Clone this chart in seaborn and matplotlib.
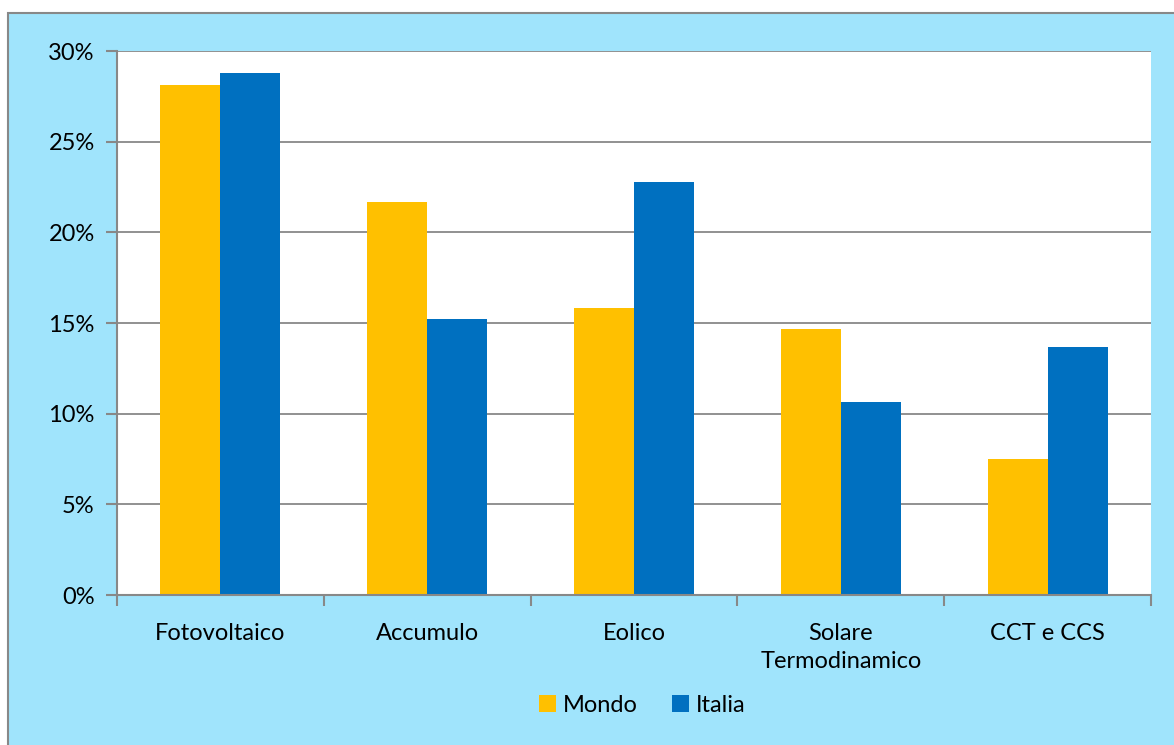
import matplotlib
matplotlib.use("Agg")
import matplotlib.pyplot as plt
import seaborn as sns
import pandas as pd
import numpy as np
from matplotlib.patches import Rectangle
from matplotlib.ticker import FixedLocator, FuncFormatter

categories = ["Fotovoltaico", "Accumulo", "Eolico", "Solare\nTermodinamico", "CCT e CCS"]
mondo = [28.1, 21.7, 15.85, 14.65, 7.5]
italia = [28.8, 15.2, 22.75, 10.65, 13.7]
series_names = ["Mondo", "Italia"]
yticks = [0, 5, 10, 15, 20, 25, 30]

df = pd.DataFrame({
    "cat": categories * 2,
    "val": mondo + italia,
    "serie": [series_names[0]] * len(categories) + [series_names[1]] * len(categories),
})

sns.set_theme(style="white")
plt.rcParams['font.family'] = ['Lato', 'DejaVu Sans']
plt.rcParams['text.color'] = 'black'

FS = 17
W, H = 1174, 745
fig = plt.figure(figsize=(W / 100, H / 100), dpi=100, facecolor="white")
bg = Rectangle((8 / W, -0.05), 1.1, 1 - 13 / H + 0.05, transform=fig.transFigure,
               facecolor="#A0E4FC", edgecolor="#888888", linewidth=1.5, zorder=-10)
fig.add_artist(bg)

ax = fig.add_axes([117 / W, 1 - 595 / H, (1151 - 117) / W, (595 - 51) / H])
ax.set_facecolor("white")
ax.set_zorder(1)

sns.barplot(data=df, x="cat", y="val", hue="serie", order=categories,
            hue_order=series_names, palette=["#FFC000", "#0070C0"],
            width=0.58, ax=ax, legend=True, saturation=1, linewidth=0)

ax.set_ylim(0, 30)
ax.set_xlim(-0.5, len(categories) - 0.5)
ax.set_yticks(yticks)
ax.yaxis.set_major_formatter(FuncFormatter(lambda v, p: f"{int(v)}%"))
ax.yaxis.grid(True, color="#888888", linewidth=1.3)
ax.set_axisbelow(True)
ax.set_xlabel("")
ax.set_ylabel("")

for s in ["top", "right"]:
    ax.spines[s].set_visible(False)
for s in ["left", "bottom"]:
    ax.spines[s].set_color("#888888")
    ax.spines[s].set_linewidth(1.5)

ax.tick_params(axis="y", which="major", length=8, width=1.5, color="#888888",
               labelsize=FS, labelcolor="black", pad=8, left=True)
ax.tick_params(axis="x", which="major", length=0, labelsize=FS, labelcolor="black", pad=20)
for t in ax.get_xticklabels():
    t.set_linespacing(1.4)
ax.xaxis.set_minor_locator(FixedLocator(np.arange(-0.5, len(categories), 1.0)))
ax.tick_params(axis="x", which="minor", length=8, width=1.5, color="#888888", bottom=True)

leg = ax.legend(loc="center", bbox_to_anchor=(0.508, (595 - 705) / (595 - 51)),
                ncol=2, frameon=False, fontsize=FS, handlelength=0.7, handleheight=0.7,
                handletextpad=0.3, columnspacing=1.45)
for t in leg.get_texts():
    t.set_color("black")

fig.savefig("out.png", dpi=100, facecolor="white")
